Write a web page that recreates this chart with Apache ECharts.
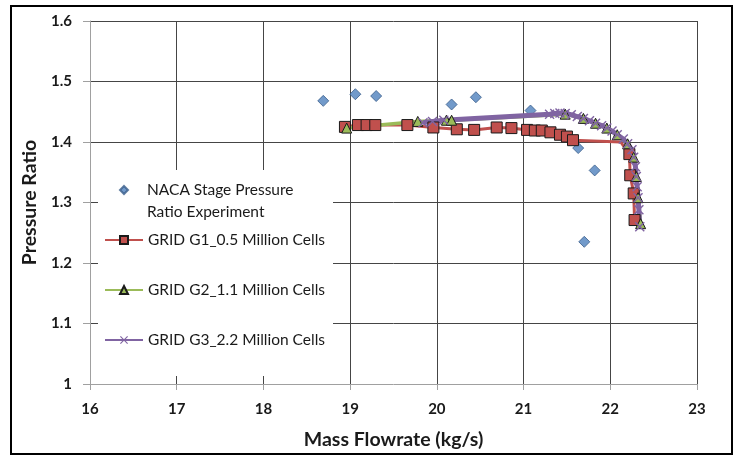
<!DOCTYPE html>
<html>
<head>
<meta charset="utf-8">
<script src="https://cdn.jsdelivr.net/npm/echarts@6/dist/echarts.min.js"></script>
<style>
  html, body { margin: 0; padding: 0; background: #fff; }
  #chart { width: 739px; height: 455px; }
</style>
</head>
<body>
<div id="chart"></div>
<script>
// Axis ticks
const massTicks = [16, 17, 18, 19, 20, 21, 22, 23];
const ratioTicks = [1, 1.1, 1.2, 1.3, 1.4, 1.5, 1.6];

// Series names
const nacaName = 'NACA Stage Pressure Ratio Experiment';
const g1Name = 'GRID G1_0.5 Million Cells';
const g2Name = 'GRID G2_1.1 Million Cells';
const g3Name = 'GRID G3_2.2 Million Cells';

// NACA stage experiment
const nacaMass  = [18.69, 19.06, 19.30, 20.17, 20.45, 21.08, 21.63, 21.82, 21.70];
const nacaRatio = [1.468, 1.479, 1.476, 1.462, 1.474, 1.452, 1.390, 1.353, 1.235];

// Grid G1 (0.5 M cells)
const g1Mass  = [18.94, 19.09, 19.19, 19.29, 19.66, 19.96, 20.23, 20.43, 20.69, 20.86,
                 21.04, 21.13, 21.21, 21.31, 21.42, 21.50, 21.57, 22.12, 22.22, 22.23,
                 22.27, 22.28];
const g1Ratio = [1.425, 1.428, 1.428, 1.428, 1.428, 1.424, 1.421, 1.420, 1.424, 1.423,
                 1.420, 1.419, 1.419, 1.416, 1.412, 1.409, 1.403, 1.400, 1.380, 1.345,
                 1.315, 1.271];
// vertex of the G1 polyline that carries no marker
const g1NoMarker = [17];

// Grid G2 (1.1 M cells)
const g2Mass  = [18.96, 19.78, 20.11, 20.17, 21.48, 21.69, 21.83, 21.96, 22.08, 22.20,
                 22.27, 22.30, 22.32, 22.35];
const g2Ratio = [1.423, 1.434, 1.436, 1.436, 1.446, 1.439, 1.431, 1.423, 1.412, 1.397,
                 1.375, 1.343, 1.308, 1.265];

// Grid G3 (2.2 M cells)
const g3Mass  = [19.84, 19.95, 20.08, 21.30, 21.36, 21.42, 21.48, 21.55, 21.62, 21.69,
                 21.76, 21.83, 21.90, 21.96, 22.02, 22.08, 22.15, 22.20, 22.25, 22.27,
                 22.29, 22.30, 22.31, 22.32, 22.33, 22.34];
const g3Ratio = [1.432, 1.434, 1.436, 1.446, 1.447, 1.448, 1.447, 1.445, 1.442, 1.439,
                 1.435, 1.431, 1.427, 1.423, 1.418, 1.412, 1.405, 1.397, 1.387, 1.375,
                 1.359, 1.343, 1.326, 1.308, 1.288, 1.260];

const pairs = (xs, ys) => xs.map((x, i) => [x, ys[i]]);

const FONT = 'Lato, "Open Sans", sans-serif';
const TEXT = '#1a1a1a';
const CROSS = 'path://M0,1L1,0L5,4L9,0L10,1L6,5L10,9L9,10L5,6L1,10L0,9L4,5Z';

const g1Data = pairs(g1Mass, g1Ratio).map((v, i) =>
  g1NoMarker.includes(i) ? { value: v, symbol: 'none' } : v);

const chart = echarts.init(document.getElementById('chart'), null, { renderer: 'canvas' });

chart.setOption({
  animation: false,
  backgroundColor: '#fff',
  textStyle: { fontFamily: FONT },
  graphic: [{
    type: 'rect',
    shape: { x: 11, y: 6, width: 721, height: 448 },
    style: { fill: 'none', stroke: '#000', lineWidth: 2 },
    silent: true,
    z: 10
  }],
  grid: { left: 90, top: 21, right: 42, bottom: 71 },
  xAxis: {
    type: 'value',
    min: massTicks[0],
    max: massTicks[massTicks.length - 1],
    interval: 1,
    name: 'Mass Flowrate (kg/s)',
    nameLocation: 'middle',
    nameGap: 46,
    nameTextStyle: { fontFamily: FONT, fontSize: 19.5, fontWeight: 'bold', color: TEXT },
    axisLine: { show: true, onZero: false, lineStyle: { color: '#a0a0a0', width: 1 } },
    axisTick: { show: true, length: 6, lineStyle: { color: '#a0a0a0' } },
    axisLabel: { fontFamily: FONT, fontSize: 15, fontWeight: 'bold', color: TEXT, margin: 18,
                 formatter: v => String(v) },
    splitLine: { show: true, showMinLine: false, lineStyle: { color: '#454545', width: 1 } }
  },
  yAxis: {
    type: 'value',
    min: ratioTicks[0],
    max: ratioTicks[ratioTicks.length - 1],
    interval: 0.1,
    name: 'Pressure Ratio',
    nameLocation: 'middle',
    nameGap: 50,
    nameTextStyle: { fontFamily: FONT, fontSize: 19.5, fontWeight: 'bold', color: TEXT },
    axisLine: { show: true, onZero: false, lineStyle: { color: '#a0a0a0', width: 1 } },
    axisTick: { show: true, length: 7, lineStyle: { color: '#a0a0a0' } },
    axisLabel: { fontFamily: FONT, fontSize: 15, fontWeight: 'bold', color: TEXT, margin: 18,
                 formatter: v => String(Math.round(v * 10) / 10) },
    splitLine: { show: true, showMinLine: false, lineStyle: { color: '#454545', width: 1 } }
  },
  legend: [
    {
      // white key box holding the three grid curves
      data: [g1Name, g2Name, g3Name],
      orient: 'vertical',
      left: 98,
      top: 170,
      padding: [60, 8, 26, 6],
      backgroundColor: '#fff',
      itemWidth: 38,
      itemHeight: 10,
      itemGap: 30,
      selectedMode: false,
      textStyle: { fontFamily: FONT, fontSize: 15.5, color: TEXT, lineHeight: 20 },
      z: 4
    },
    {
      // experiment entry, two-line label; the marker sits beside the first line
      data: [{ name: nacaName, textStyle: { padding: [0, 0, 0, 14] } }],
      orient: 'vertical',
      left: 119,
      top: 157,
      padding: 0,
      itemWidth: 8,
      itemHeight: 8,
      selectedMode: false,
      formatter: () => '\nNACA Stage Pressure\nRatio Experiment',
      textStyle: { fontFamily: FONT, fontSize: 15.5, color: TEXT, lineHeight: 22 },
      z: 6
    }
  ],
  series: [
    {
      name: nacaName,
      type: 'scatter',
      data: pairs(nacaMass, nacaRatio),
      symbol: 'diamond',
      symbolSize: 11,
      itemStyle: { color: '#4f81bd', borderColor: '#385d8a', borderWidth: 1 }
    },
    {
      name: g1Name,
      type: 'line',
      data: g1Data,
      symbol: 'rect',
      symbolSize: 11,
      lineStyle: { color: '#c0504d', width: 3 },
      itemStyle: { color: '#c0504d', borderColor: '#1a1a1a', borderWidth: 1 }
    },
    {
      name: g2Name,
      type: 'line',
      data: pairs(g2Mass, g2Ratio),
      symbol: 'triangle',
      symbolSize: 10,
      lineStyle: { color: '#9bbb59', width: 3.5 },
      itemStyle: { color: '#9bbb59', borderColor: '#1a1a1a', borderWidth: 1 }
    },
    {
      name: g3Name,
      type: 'line',
      data: pairs(g3Mass, g3Ratio),
      symbol: CROSS,
      symbolSize: 10,
      lineStyle: { color: '#8064a2', width: 5 },
      itemStyle: { color: '#8064a2' }
    }
  ]
});
</script>
</body>
</html>
